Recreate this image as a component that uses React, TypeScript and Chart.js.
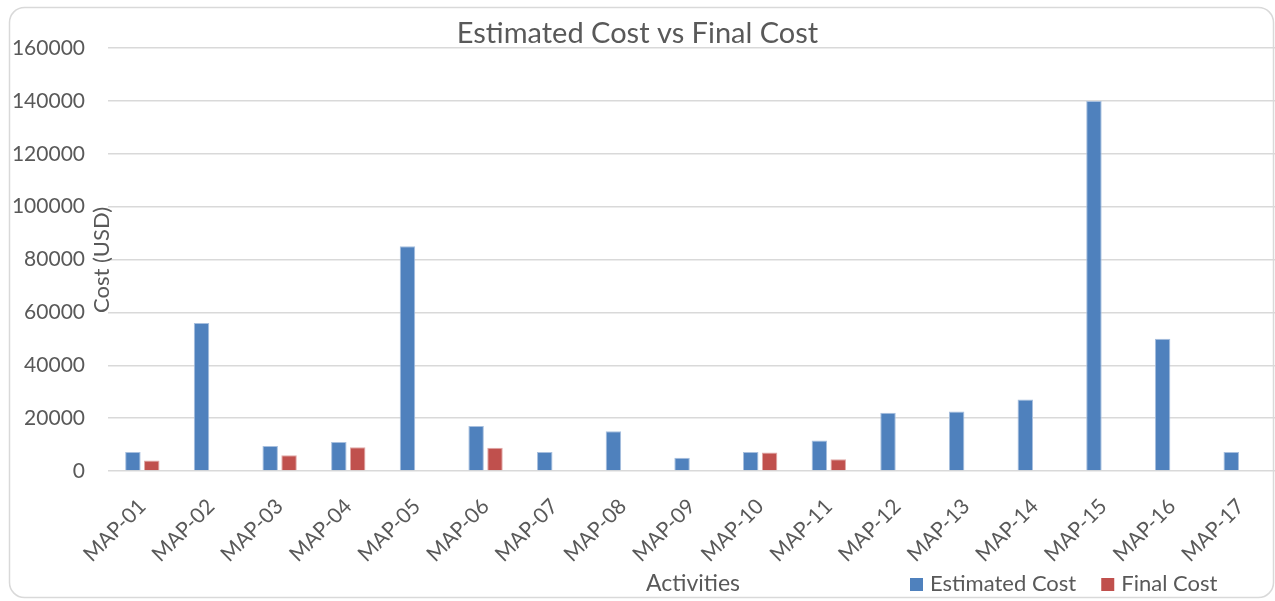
import React, { useEffect, useRef } from "react";
import { Chart, registerables } from "chart.js";

Chart.register(...registerables);

const categories = [
  "MAP-01", "MAP-02", "MAP-03", "MAP-04", "MAP-05", "MAP-06", "MAP-07", "MAP-08", "MAP-09",
  "MAP-10", "MAP-11", "MAP-12", "MAP-13", "MAP-14", "MAP-15", "MAP-16", "MAP-17",
];
const estimatedCost = [
  7200, 56000, 9500, 11000, 85000, 17000, 7200, 15000, 5000,
  7200, 11500, 22000, 22500, 27000, 140000, 50000, 7200,
];
const finalCost: (number | null)[] = [
  4000, null, 6000, 9000, null, 8800, null, null, null,
  7000, 4400, null, null, null, null, null, null,
];
const yTickValues = [0, 20000, 40000, 60000, 80000, 100000, 120000, 140000, 160000];

const TEXT = "#595959";
const FONT = "Lato";

const decorPlugin = {
  id: "decor",
  beforeDraw(chart: any) {
    const ctx = chart.ctx;
    ctx.save();
    ctx.fillStyle = "#ffffff";
    ctx.fillRect(0, 0, chart.width, chart.height);
    ctx.strokeStyle = "#d9d9d9";
    ctx.lineWidth = 1.5;
    ctx.beginPath();
    (ctx as any).roundRect(9.5, 7.5, 1264, 590, 15);
    ctx.stroke();
    ctx.restore();
  },
  afterDraw(chart: any) {
    const ctx = chart.ctx;
    ctx.save();
    ctx.fillStyle = TEXT;
    ctx.textBaseline = "middle";
    // x-axis title
    ctx.font = `23px ${FONT}`;
    ctx.textAlign = "center";
    ctx.fillText("Activities", 693, 584);
    // legend
    ctx.font = `22px ${FONT}`;
    ctx.textAlign = "left";
    let x = 910;
    chart.data.datasets.forEach((ds: any) => {
      ctx.fillStyle = ds.backgroundColor;
      ctx.fillRect(x, 578, 13, 13);
      ctx.fillStyle = TEXT;
      ctx.fillText(ds.label, x + 20, 584);
      x += 20 + ctx.measureText(ds.label).width + 25;
    });
    // y-axis title
    ctx.translate(102, 260);
    ctx.rotate(-Math.PI / 2);
    ctx.textAlign = "center";
    ctx.font = `22px ${FONT}`;
    ctx.fillText("Cost (USD)", 0, 0);
    ctx.restore();
  },
};

export default function App() {
  const ref = useRef<HTMLCanvasElement | null>(null);
  useEffect(() => {
    if (!ref.current) return;
    const chart = new Chart(ref.current, {
      type: "bar",
      data: {
        labels: categories,
        datasets: [
          {
            label: "Estimated Cost",
            data: estimatedCost,
            backgroundColor: "#4f81bd",
            borderColor: "#a7bfde",
            borderWidth: 1,
            categoryPercentage: 0.55,
            barPercentage: 0.82,
          },
          {
            label: "Final Cost",
            data: finalCost,
            backgroundColor: "#c0504d",
            borderColor: "#e0a8a6",
            borderWidth: 1,
            categoryPercentage: 0.55,
            barPercentage: 0.82,
          },
        ],
      },
      options: {
        responsive: false,
        animation: false,
        devicePixelRatio: 1,
        layout: { padding: { left: 0, right: 0, top: 0, bottom: 0 } },
        plugins: {
          tooltip: { enabled: false },
          title: {
            display: true,
            text: "Estimated Cost vs Final Cost",
            color: TEXT,
            font: { family: FONT, size: 29, weight: "normal", lineHeight: 1 },
            padding: { top: 19, bottom: 0 },
          },
          legend: { display: false },
        },
        scales: {
          x: {
            grid: { display: false },
            border: { display: false },
            ticks: {
              color: TEXT,
              font: { family: FONT, size: 21 },
              maxRotation: 45,
              minRotation: 45,
              padding: 15,
              autoSkip: false,
            },
            afterFit(scale: any) {
              scale.height = 130;
            },
          },
          y: {
            min: 0,
            max: 160000,
            grid: { color: "#d9d9d9", lineWidth: 1.5, drawTicks: false },
            border: { display: false },
            afterBuildTicks(scale: any) {
              scale.ticks = yTickValues.map((v) => ({ value: v }));
            },
            ticks: {
              color: TEXT,
              font: { family: FONT, size: 21 },
              padding: 23,
              callback: (v: any) => String(v),
            },
            afterFit(scale: any) {
              scale.width = 108;
            },
          },
        },
      },
      plugins: [decorPlugin],
    });
    return () => chart.destroy();
  }, []);
  return (
    <div style={{ position: "fixed", left: 0, top: 0, width: 1275, height: 601, background: "#fff" }}>
      <canvas ref={ref} width={1275} height={601} />
    </div>
  );
}
